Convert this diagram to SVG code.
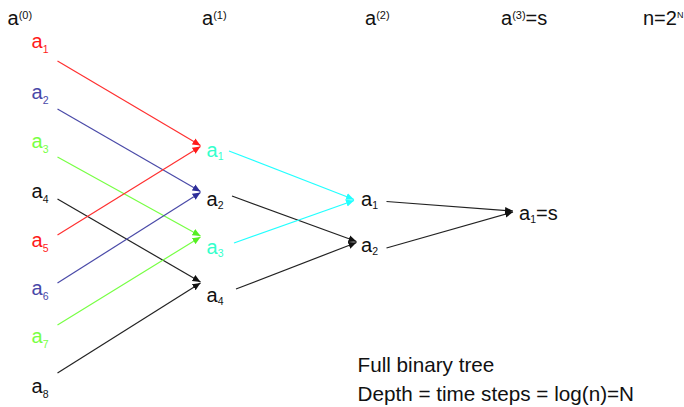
<svg xmlns="http://www.w3.org/2000/svg" width="684" height="407" viewBox="0 0 684 407">
<defs>
<style>
text{font-family:"Liberation Sans",Arial,sans-serif;font-size:20px;fill:#111}
.sub{font-size:10.5px}
.sup{font-size:11px}
.big{font-size:20.7px}
.red{fill:#ff1a1a}.blue{fill:#4848a8}.green{fill:#77ff44}.cyan{fill:#33ffcc}
line{stroke-width:1.2;fill:none}
.lr{stroke:#ff3030;marker-end:url(#mr)}
.lb{stroke:#4a4aa8;marker-end:url(#mb)}
.lg{stroke:#77ff44;marker-end:url(#mg)}
.lk{stroke:#222;marker-end:url(#mk)}
.lc{stroke:#22ffff;marker-end:url(#mc)}
</style>
<marker id="mr" markerUnits="userSpaceOnUse" markerWidth="10" markerHeight="8" refX="8" refY="4" orient="auto"><path d="M0,0.5 L8,4 L0,7.5 z" fill="#ff1a1a"/></marker>
<marker id="mb" markerUnits="userSpaceOnUse" markerWidth="10" markerHeight="8" refX="8" refY="4" orient="auto"><path d="M0,0.5 L8,4 L0,7.5 z" fill="#2e2e99"/></marker>
<marker id="mg" markerUnits="userSpaceOnUse" markerWidth="10" markerHeight="8" refX="8" refY="4" orient="auto"><path d="M0,0.5 L8,4 L0,7.5 z" fill="#55ee22"/></marker>
<marker id="mk" markerUnits="userSpaceOnUse" markerWidth="10" markerHeight="8" refX="8" refY="4" orient="auto"><path d="M0,0.5 L8,4 L0,7.5 z" fill="#111"/></marker>
<marker id="mc" markerUnits="userSpaceOnUse" markerWidth="10" markerHeight="8" refX="8" refY="4" orient="auto"><path d="M0,0.5 L8,4 L0,7.5 z" fill="#22ffff"/></marker>
</defs>
<rect width="684" height="407" fill="#fff"/>

<g id="headers">
<text x="7.5" y="25">a<tspan class="sup" dy="-6.5">(0)</tspan></text>
<text x="202" y="25">a<tspan class="sup" dy="-6.5">(1)</tspan></text>
<text x="365" y="25">a<tspan class="sup" dy="-6.5">(2)</tspan></text>
<text x="501" y="25">a<tspan class="sup" dy="-6.5">(3)</tspan><tspan dy="6.5">=s</tspan></text>
<text x="643" y="25">n=2<tspan style="font-size:9px" dy="-7">N</tspan></text>
</g>

<g id="connectors">
<line class="lr" x1="57.5" y1="61" x2="200.5" y2="145.5"/>
<line class="lb" x1="57.5" y1="109" x2="200.5" y2="191.5"/>
<line class="lg" x1="57.5" y1="157" x2="200.5" y2="236"/>
<line class="lk" x1="57.5" y1="199" x2="200.5" y2="282"/>
<line class="lr" x1="57.5" y1="235" x2="200.5" y2="146.5"/>
<line class="lb" x1="57.5" y1="283" x2="200.5" y2="192.5"/>
<line class="lg" x1="57.5" y1="325" x2="200.5" y2="237"/>
<line class="lk" x1="57.5" y1="373" x2="200.5" y2="283"/>
<line class="lc" x1="229" y1="151" x2="354" y2="199.5"/>
<line class="lk" x1="232" y1="196" x2="356.5" y2="241.5"/>
<line class="lc" x1="234" y1="243" x2="354" y2="200.5"/>
<line class="lk" x1="236" y1="289" x2="356.5" y2="242.5"/>
<line class="lk" x1="386.5" y1="201.5" x2="513" y2="211"/>
<line class="lk" x1="386.5" y1="248" x2="513" y2="212"/>
</g>

<g id="level0">
<text class="red" x="31.5" y="48">a<tspan class="sub" dy="5">1</tspan></text>
<text class="blue" x="31.5" y="99">a<tspan class="sub" dy="5">2</tspan></text>
<text class="green" x="31.5" y="148">a<tspan class="sub" dy="5">3</tspan></text>
<text x="31.5" y="198">a<tspan class="sub" dy="5">4</tspan></text>
<text class="red" x="31.5" y="246.5">a<tspan class="sub" dy="5">5</tspan></text>
<text class="blue" x="31.5" y="295">a<tspan class="sub" dy="5">6</tspan></text>
<text class="green" x="31.5" y="343">a<tspan class="sub" dy="5">7</tspan></text>
<text x="31.5" y="393">a<tspan class="sub" dy="5">8</tspan></text>
</g>

<g id="level1">
<text class="cyan" x="206.5" y="156.5">a<tspan class="sub" dy="3">1</tspan></text>
<text x="206.5" y="206">a<tspan class="sub" dy="3">2</tspan></text>
<text class="cyan" x="206.5" y="253.5">a<tspan class="sub" dy="3">3</tspan></text>
<text x="206.5" y="302">a<tspan class="sub" dy="3">4</tspan></text>
</g>

<g id="level2">
<text x="361" y="206">a<tspan class="sub" dy="3">1</tspan></text>
<text x="361" y="251.5">a<tspan class="sub" dy="3">2</tspan></text>
</g>

<g id="level3">
<text x="519" y="220">a<tspan class="sub" dy="3">1</tspan><tspan dy="-3">=s</tspan></text>
</g>

<g id="caption">
<text class="big" x="357.5" y="371.5">Full binary tree</text>
<text class="big" x="357.5" y="401">Depth = time steps = log(n)=N</text>
</g>
</svg>
